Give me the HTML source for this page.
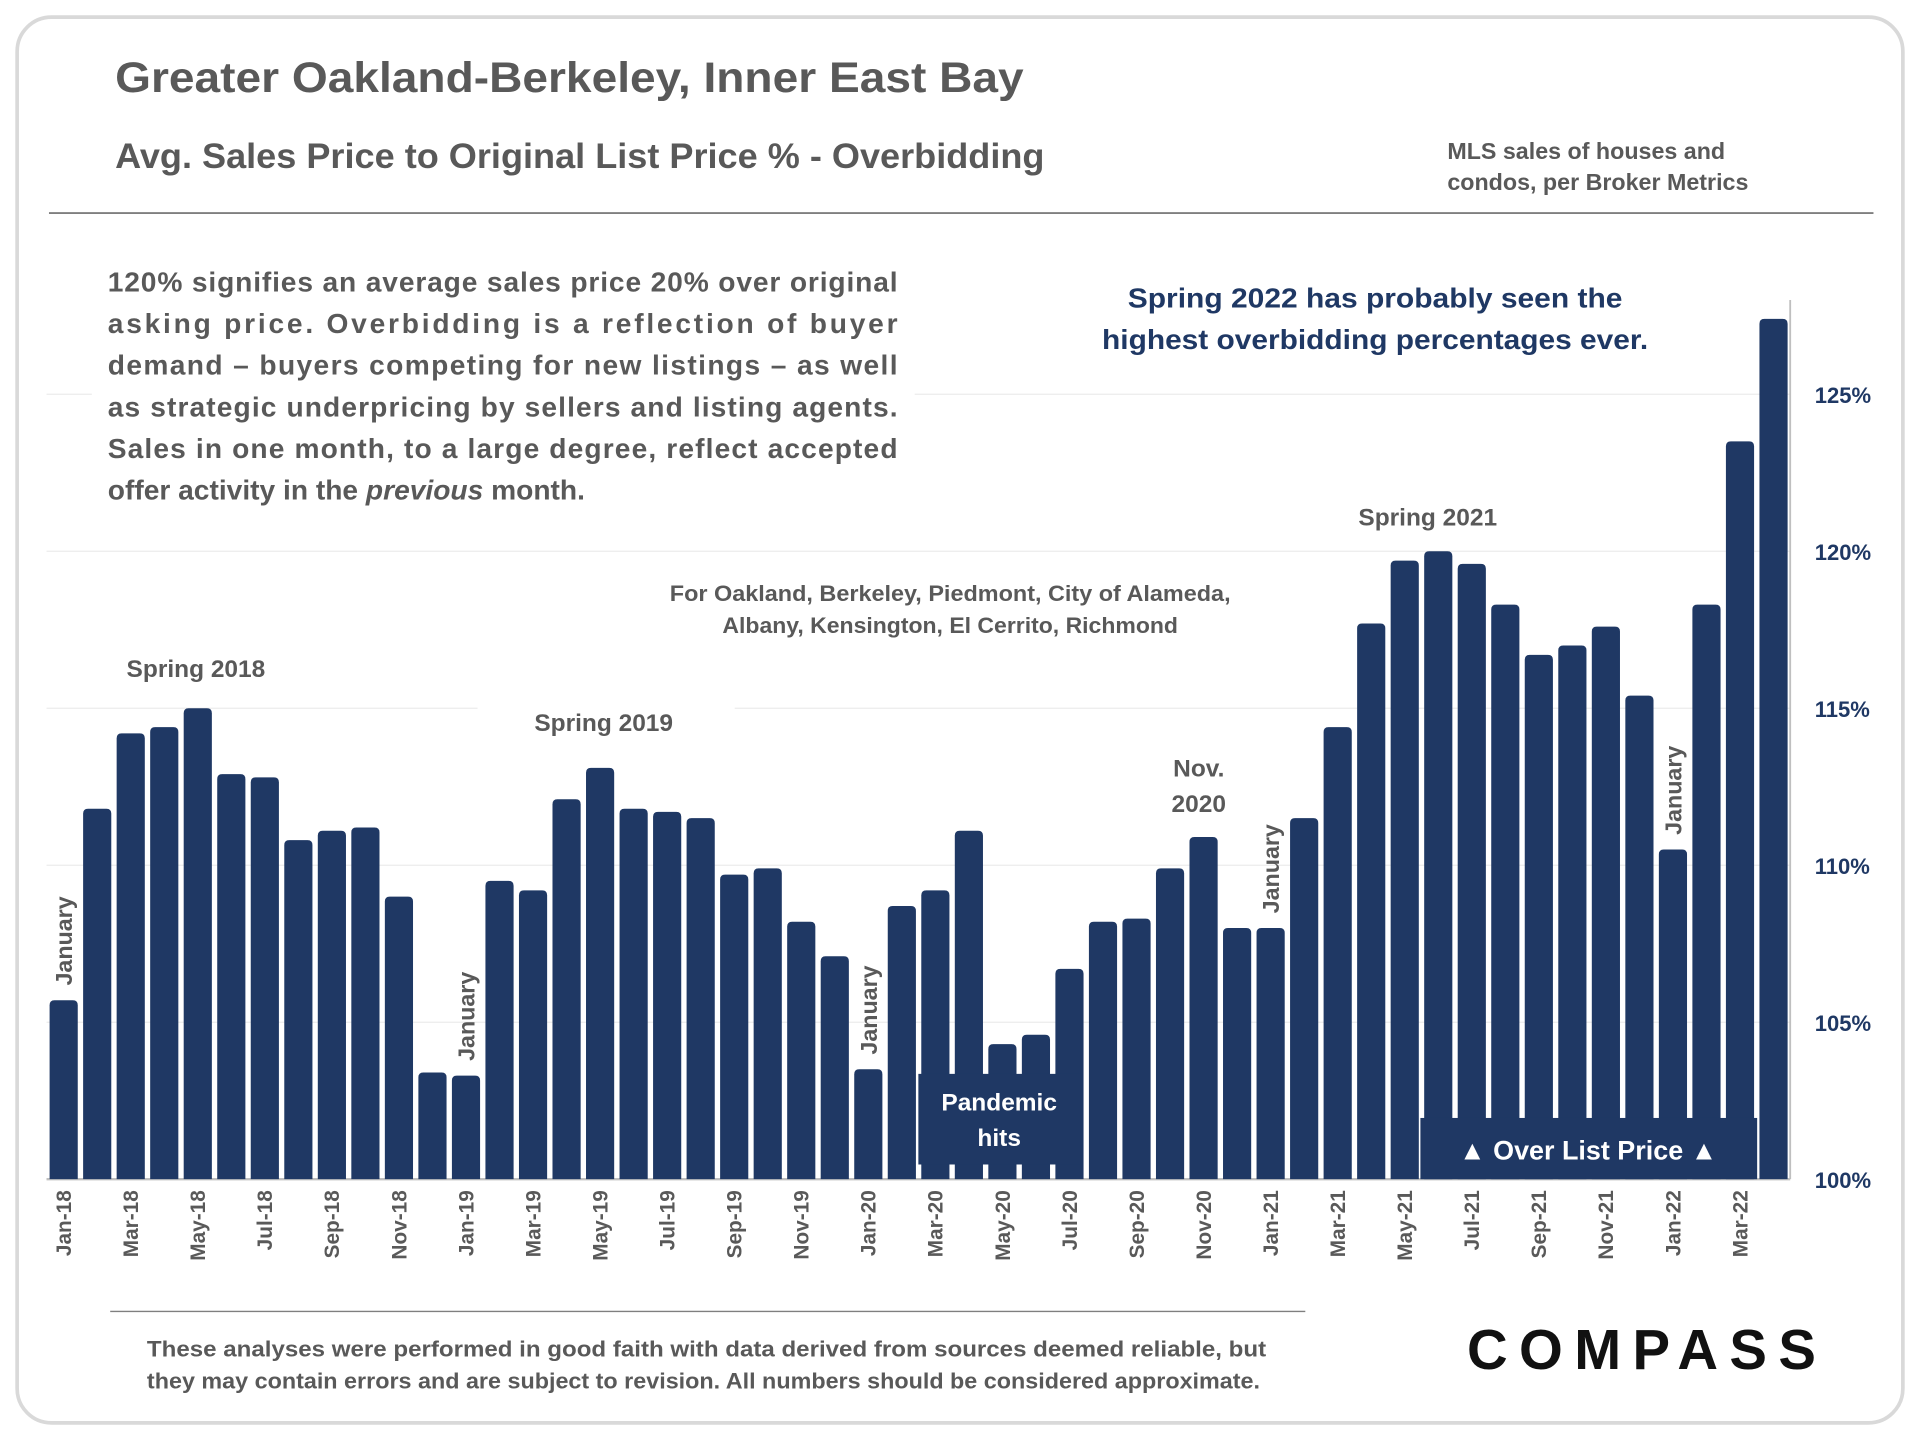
<!DOCTYPE html>
<html><head><meta charset="utf-8"><style>
html,body{margin:0;padding:0;background:#fff;}
svg{display:block;font-family:"Liberation Sans",sans-serif;}
</style></head><body>
<svg id="chart" width="1920" height="1440" viewBox="0 0 1568 1176" preserveAspectRatio="none" xmlns="http://www.w3.org/2000/svg">
<rect x="14" y="14" width="1540" height="1148" rx="28" fill="#fff" stroke="#d9d9d9" stroke-width="3"/>
<text x="94" y="75" font-size="35" font-weight="bold" fill="#595959" textLength="742" lengthAdjust="spacingAndGlyphs">Greater Oakland-Berkeley, Inner East Bay</text>
<text x="94" y="137" font-size="29" font-weight="bold" fill="#595959" textLength="759" lengthAdjust="spacingAndGlyphs">Avg. Sales Price to Original List Price % - Overbidding</text>
<text font-size="19" fill="#595959" font-weight="bold"><tspan x="1182" y="130">MLS sales of houses and</tspan><tspan x="1182" y="155">condos, per Broker Metrics</tspan></text>
<line x1="40" y1="174" x2="1530" y2="174" stroke="#7f7f7f" stroke-width="1.5"/>
<g id="grid"></g>
<g id="bars"></g>
<g id="xlabels"></g>
<g id="ylabels"></g>
<rect x="75" y="212" width="672" height="208" fill="#fff"/>
<g font-size="23" font-weight="bold" fill="#595959">
<text x="88" y="238" textLength="645" lengthAdjust="spacing">120% signifies an average sales price 20% over original</text>
<text x="88" y="272" textLength="645" lengthAdjust="spacing">asking price.  Overbidding is a reflection of buyer</text>
<text x="88" y="306" textLength="645" lengthAdjust="spacing">demand – buyers competing for new listings – as well</text>
<text x="88" y="340" textLength="645" lengthAdjust="spacing">as strategic underpricing by sellers and listing agents.</text>
<text x="88" y="374" textLength="645" lengthAdjust="spacing">Sales in one month, to a large degree, reflect accepted</text>
<text x="88" y="408">offer activity in the <tspan font-style="italic">previous</tspan> month.</text>
</g>
<g font-size="23" font-weight="bold" fill="#1f3864" text-anchor="middle">
<text x="1123" y="251" textLength="404" lengthAdjust="spacingAndGlyphs">Spring 2022 has probably seen the</text>
<text x="1123" y="285" textLength="446" lengthAdjust="spacingAndGlyphs">highest overbidding percentages ever.</text>
</g>
<g font-size="18" font-weight="bold" fill="#595959" text-anchor="middle">
<text x="776" y="491" textLength="458" lengthAdjust="spacingAndGlyphs">For Oakland, Berkeley, Piedmont, City of Alameda,</text>
<text x="776" y="517" textLength="372" lengthAdjust="spacingAndGlyphs">Albany, Kensington, El Cerrito, Richmond</text>
</g>
<rect x="95" y="528" width="140" height="34" fill="#fff"/>
<text x="160" y="553" font-size="20" font-weight="bold" fill="#595959" text-anchor="middle">Spring 2018</text>
<rect x="390" y="576" width="210" height="36" fill="#fff"/>
<text x="493" y="597" font-size="20" font-weight="bold" fill="#595959" text-anchor="middle">Spring 2019</text>
<text x="1166" y="429" font-size="20" font-weight="bold" fill="#595959" text-anchor="middle">Spring 2021</text>
<g font-size="20" font-weight="bold" fill="#595959" text-anchor="middle">
<text x="979" y="634">Nov.</text><text x="979" y="663">2020</text>
</g>
<g id="janlabels" font-size="19" font-weight="bold" fill="#595959"></g>
<g>
<rect x="750" y="877" width="134" height="74" fill="#1f3864"/>
<text x="816" y="907" font-size="20" font-weight="bold" fill="#fff" text-anchor="middle">Pandemic</text>
<text x="816" y="936" font-size="20" font-weight="bold" fill="#fff" text-anchor="middle">hits</text>
</g>
<g>
<rect x="1160" y="913" width="275" height="50" fill="#1f3864"/>
<text x="1297" y="947" font-size="22" font-weight="bold" fill="#fff" text-anchor="middle">▲ Over List Price ▲</text>
</g>
<line x1="90" y1="1071" x2="1066" y2="1071" stroke="#7f7f7f" stroke-width="1.2"/>
<g font-size="18" font-weight="bold" fill="#595959">
<text x="120" y="1108" textLength="914" lengthAdjust="spacingAndGlyphs">These analyses were performed in good faith with data derived from sources deemed reliable, but</text>
<text x="120" y="1134" textLength="909" lengthAdjust="spacingAndGlyphs">they may contain errors and are subject to revision. All numbers should be considered  approximate.</text>
</g>
<text x="1198" y="1118" font-size="46" font-weight="bold" fill="#111" textLength="285" lengthAdjust="spacing">COMPASS</text>
</svg>
<script>
const months=["Jan-18","Feb-18","Mar-18","Apr-18","May-18","Jun-18","Jul-18","Aug-18","Sep-18","Oct-18","Nov-18","Dec-18","Jan-19","Feb-19","Mar-19","Apr-19","May-19","Jun-19","Jul-19","Aug-19","Sep-19","Oct-19","Nov-19","Dec-19","Jan-20","Feb-20","Mar-20","Apr-20","May-20","Jun-20","Jul-20","Aug-20","Sep-20","Oct-20","Nov-20","Dec-20","Jan-21","Feb-21","Mar-21","Apr-21","May-21","Jun-21","Jul-21","Aug-21","Sep-21","Oct-21","Nov-21","Dec-21","Jan-22","Feb-22","Mar-22","Apr-22"];
const values=[105.7,111.8,114.2,114.4,115.0,112.9,112.8,110.8,111.1,111.2,109.0,103.4,103.3,109.5,109.2,112.1,113.1,111.8,111.7,111.5,109.7,109.9,108.2,107.1,103.5,108.7,109.2,111.1,104.3,104.6,106.7,108.2,108.3,109.9,110.9,108.0,108.0,111.5,114.4,117.7,119.7,120.0,119.6,118.3,116.7,117.0,117.6,115.4,110.5,118.3,123.5,127.4];
const yTicks=[100,105,110,115,120,125];
const yTickLabels=["100%","105%","110%","115%","120%","125%"];
const janMonths=["Jan-18","Jan-19","Jan-20","Jan-21","Jan-22"];
const NS="http://www.w3.org/2000/svg";
const y=v=>963-(v-100)*25.64;
const x=i=>52+i*27.38;
const mk=(t,a,p)=>{const e=document.createElementNS(NS,t);for(const k in a)e.setAttribute(k,a[k]);p.appendChild(e);return e;};
const grid=document.getElementById('grid'),bars=document.getElementById('bars'),xl=document.getElementById('xlabels'),yl=document.getElementById('ylabels'),jl=document.getElementById('janlabels');
yTicks.forEach((t,k)=>{
  const g=mk('line',{x1:38,x2:1462,y1:y(t),y2:y(t),stroke:t===100?'#bfbfbf':'#ececec','stroke-width':t===100?2:1},grid);
  
  
  const l=mk('text',{x:1482,y:y(t)+7,'font-size':18,'font-weight':'bold',fill:'#1f3864'},yl);
  l.textContent=yTickLabels[k];
  
  
});
mk('line',{x1:1462,x2:1462,y1:245,y2:963,stroke:'#bfbfbf','stroke-width':1.5},grid);
values.forEach((v,i)=>{
  const cx=x(i),top=y(v),w=23,r=4;
  const p=mk('path',{d:`M${cx-w/2},963 V${top+r} Q${cx-w/2},${top} ${cx-w/2+r},${top} H${cx+w/2-r} Q${cx+w/2},${top} ${cx+w/2},${top+r} V963 Z`,fill:'#1f3864'},bars);
  
  
  if(i%2===0){
    const t=mk('text',{x:0,y:0,transform:`translate(${cx+6},972) rotate(-90)`,'text-anchor':'end','font-size':17,'font-weight':'bold',fill:'#595959'},xl);
    t.textContent=months[i];
    
    
  }
  if(janMonths.includes(months[i])){
    const t=mk('text',{x:0,y:0,transform:`translate(${cx+7},${top-12}) rotate(-90)`,'text-anchor':'start'},jl);
    t.textContent='January';
    
    
  }
});
</script>
</body></html>
